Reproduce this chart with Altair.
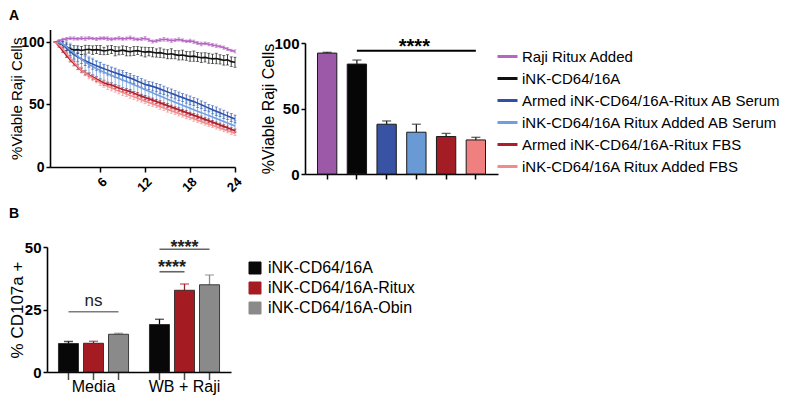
import altair as alt
import pandas as pd

FONT = "Liberation Sans"

# ---------------- data ----------------
hours = [0, 0.5, 1, 1.5, 2, 2.5, 3, 3.5, 4, 4.5, 5, 5.5, 6, 6.5, 7, 7.5, 8, 8.5, 9, 9.5,
         10, 10.5, 11, 11.5, 12, 12.5, 13, 13.5, 14, 14.5, 15, 15.5, 16, 16.5, 17, 17.5,
         18, 18.5, 19, 19.5, 20, 20.5, 21, 21.5, 22, 22.5, 23, 23.5, 24]

series_names = ["Raji Ritux Added", "iNK-CD64/16A", "Armed iNK-CD64/16A-Ritux AB Serum",
                "iNK-CD64/16A Ritux Added AB Serum", "Armed iNK-CD64/16A-Ritux FBS",
                "iNK-CD64/16A Ritux Added FBS"]

raji = [100.0, 101.0, 102.0, 102.5, 103.0, 102.8, 102.5, 103.0, 102.6, 103.2,
        102.8, 102.4, 102.9, 103.1, 102.7, 102.2, 102.6, 103.0, 102.5, 102.8,
        103.3, 102.6, 102.1, 102.4, 102.9, 101.7, 100.4, 100.9, 101.6, 102.2,
        101.8, 101.1, 101.5, 102.0, 101.3, 100.6, 100.9, 100.2, 99.1, 98.4,
        98.9, 98.2, 97.6, 97.0, 96.4, 95.5, 94.3, 93.2, 92.5]
raji_err = [0.5, 0.8, 1.0, 1.2, 1.1, 1.3, 1.0, 1.2, 1.4, 1.1,
            1.0, 1.3, 1.2, 1.1, 1.4, 1.2, 1.0, 1.3, 1.1, 1.2,
            1.5, 1.3, 1.1, 1.2, 1.4, 1.3, 1.2, 1.1, 1.3, 1.5,
            1.2, 1.4, 1.1, 1.3, 1.2, 1.0, 1.4, 1.3, 1.2, 1.5,
            1.1, 1.3, 1.2, 1.4, 1.1, 1.3, 1.2, 1.0, 1.2]

ink = [100.0, 99.2, 97.8, 96.2, 94.5, 93.6, 93.9, 93.2, 93.8, 94.2,
       93.5, 93.9, 93.6, 92.8, 93.4, 94.0, 92.6, 92.9, 93.5, 92.7,
       92.2, 92.8, 93.1, 92.4, 91.9, 92.3, 91.8, 91.2, 91.5, 90.8,
       90.2, 90.6, 89.9, 89.3, 89.6, 88.9, 88.4, 88.7, 88.0, 87.4,
       87.7, 87.0, 86.5, 86.8, 86.1, 85.4, 85.7, 84.3, 83.8]
ink_err = [0.5, 1.5, 2.5, 3.0, 3.2, 3.5, 3.0, 3.3, 3.6, 3.1,
           3.4, 3.2, 3.6, 3.0, 3.5, 3.3, 3.7, 3.2, 3.4, 3.8,
           3.3, 3.6, 3.2, 3.5, 3.9, 3.4, 3.7, 3.3, 3.8, 3.5,
           3.6, 4.0, 3.4, 3.7, 3.9, 3.5, 3.8, 4.1, 3.6, 3.9,
           3.7, 4.0, 3.8, 4.2, 3.7, 3.9, 4.1, 3.8, 4.0]

armed_ab = [100.0, 99.3, 97.6, 95.0, 92.4, 90.0, 88.0, 86.4, 85.0, 83.6,
            82.3, 81.0, 79.8, 78.7, 77.5, 76.4, 75.4, 74.3, 73.3, 72.2,
            71.2, 70.0, 68.6, 67.3, 66.0, 65.3, 64.4, 63.5, 62.4, 61.3,
            60.1, 58.9, 57.8, 56.6, 55.6, 54.4, 53.3, 52.3, 51.1, 49.8,
            48.5, 47.1, 45.8, 44.6, 43.4, 42.1, 40.9, 39.6, 38.4]
armed_ab_err = [0.5, 1.5, 2.5, 3.0, 3.4, 3.6, 3.8, 3.5, 3.9, 3.7,
                4.0, 3.6, 3.8, 3.5, 3.9, 3.6, 3.7, 3.4, 3.8, 3.5,
                3.6, 3.3, 3.7, 3.4, 3.6, 3.2, 3.5, 3.3, 3.6, 3.4,
                3.2, 3.5, 3.3, 3.4, 3.1, 3.3, 3.5, 3.2, 3.4, 3.1,
                3.3, 3.0, 3.2, 3.4, 3.1, 3.3, 3.0, 3.2, 3.1]

ritux_ab = [100.0, 99.6, 98.4, 96.2, 93.6, 91.0, 88.6, 86.2, 84.0, 82.1,
            80.4, 78.8, 77.3, 75.9, 74.6, 73.4, 72.1, 70.8, 69.6, 68.3,
            67.1, 65.8, 64.5, 63.2, 61.8, 60.6, 59.3, 58.0, 56.8, 55.5,
            54.2, 53.0, 51.8, 50.6, 49.4, 48.2, 47.0, 45.8, 44.6, 43.5,
            42.3, 41.1, 40.0, 38.8, 37.6, 36.4, 35.2, 34.0, 32.8]
ritux_ab_err = [0.5, 2.0, 3.5, 4.5, 5.5, 6.0, 6.5, 6.8, 7.0, 6.6,
                6.8, 6.4, 6.6, 6.2, 6.5, 6.0, 6.3, 5.9, 6.1, 5.8,
                6.0, 5.6, 5.9, 5.5, 5.7, 5.4, 5.6, 5.2, 5.5, 5.1,
                5.3, 5.0, 5.2, 4.9, 5.1, 4.8, 5.0, 4.7, 4.9, 4.6,
                4.8, 4.5, 4.7, 4.4, 4.6, 4.3, 4.5, 4.2, 4.4]

armed_fbs = [100.0, 96.8, 93.0, 89.2, 85.8, 82.6, 79.8, 77.4, 75.4, 73.6,
             72.0, 70.4, 68.9, 67.2, 66.3, 65.6, 64.4, 63.1, 62.0, 61.2,
             60.3, 59.1, 57.8, 56.7, 55.6, 54.6, 53.5, 52.4, 51.3, 50.2,
             49.1, 48.0, 46.9, 45.8, 44.7, 43.6, 42.5, 41.4, 40.3, 39.2,
             38.1, 37.0, 35.9, 34.8, 33.6, 32.5, 31.4, 30.2, 29.0]
armed_fbs_err = [0.5, 1.0, 1.4, 1.6, 1.8, 1.7, 1.9, 1.6, 1.8, 1.5,
                 1.7, 1.9, 1.6, 1.8, 1.5, 1.7, 1.6, 1.8, 1.5, 1.7,
                 1.6, 1.4, 1.7, 1.5, 1.6, 1.4, 1.6, 1.5, 1.7, 1.4,
                 1.6, 1.5, 1.3, 1.6, 1.4, 1.5, 1.3, 1.5, 1.4, 1.6,
                 1.3, 1.5, 1.4, 1.2, 1.5, 1.3, 1.4, 1.2, 1.4]

ritux_fbs = [100.0, 97.6, 94.6, 90.8, 87.0, 83.6, 80.4, 77.6, 75.2, 73.1,
             71.2, 69.4, 67.7, 66.0, 64.5, 63.2, 61.9, 60.7, 59.5, 58.4,
             57.3, 56.1, 55.0, 53.8, 52.7, 51.6, 50.5, 49.4, 48.3, 47.2,
             46.1, 45.0, 43.9, 42.8, 41.8, 40.7, 39.6, 38.6, 37.5, 36.4,
             35.3, 34.3, 33.2, 32.2, 31.1, 30.0, 29.0, 28.0, 26.9]
ritux_fbs_err = [0.5, 1.2, 1.8, 2.2, 2.5, 2.3, 2.6, 2.4, 2.2, 2.5,
                 2.3, 2.1, 2.4, 2.2, 2.5, 2.3, 2.0, 2.2, 2.4, 2.1,
                 2.3, 2.0, 2.2, 1.9, 2.1, 2.3, 2.0, 1.8, 2.1, 1.9,
                 2.2, 2.0, 1.8, 2.0, 1.9, 2.1, 1.8, 2.0, 1.7, 1.9,
                 1.8, 2.0, 1.7, 1.9, 1.6, 1.8, 1.7, 1.9, 1.6]

# endpoint (24 h) bar chart
bar_a_values = [92.3, 83.9, 38.0, 31.9, 28.6, 26.0]
bar_a_err = [0.6, 3.1, 2.5, 6.1, 2.4, 2.0]
sig_a_level = 94
sig_a_text_level = 92.4

# panel B
b_groups = ["Media", "WB + Raji"]
b_treat = ["iNK-CD64/16A", "iNK-CD64/16A-Ritux", "iNK-CD64/16A-Obin"]
b_media = [11.4, 11.5, 15.1]
b_media_err = [0.8, 0.8, 0.4]
b_wb = [19.0, 32.7, 34.9]
b_wb_err = [2.1, 2.5, 3.9]
sig_b_levels = [24.1, 40.1, 49.1]
sig_b_text_levels = [26.4, 39.5, 47.8]
sig_b_labels = ["ns", "****", "****"]

line_colors = ["#b466c2", "#111111", "#2f4fa8", "#6f9fe0", "#ae1d2a", "#f28b8b"]
bar_colors = ["#9b59a8", "#060606", "#3852a4", "#6a9ad6", "#a51d24", "#f07f7f"]
b_colors = ["#080808", "#a41c22", "#8a8a8a"]

# ---------------- tables ----------------
all_vals = [raji, ink, armed_ab, ritux_ab, armed_fbs, ritux_fbs]
all_errs = [raji_err, ink_err, armed_ab_err, ritux_ab_err, armed_fbs_err, ritux_fbs_err]
rows = []
for name, vals, errs in zip(series_names, all_vals, all_errs):
    for t, v, e in zip(hours, vals, errs):
        rows.append({"time": t, "series": name, "value": v, "lo": v - e, "hi": v + e})
df_line = pd.DataFrame(rows)

df_bar_a = pd.DataFrame({"cond": series_names, "value": bar_a_values,
                         "hi": [v + e for v, e in zip(bar_a_values, bar_a_err)]})
df_sig_a = pd.DataFrame({"start": [series_names[1]], "end": [series_names[5]],
                         "mid": [series_names[3]], "y": [sig_a_level],
                         "ty": [sig_a_text_level], "label": ["****"]})

b_rows = []
for g, vals, errs in [(b_groups[0], b_media, b_media_err), (b_groups[1], b_wb, b_wb_err)]:
    for tr, v, e in zip(b_treat, vals, errs):
        b_rows.append({"group": g, "treat": tr, "value": v, "hi": v + e, "base": 0})
df_b = pd.DataFrame(b_rows)
df_sig_b = pd.DataFrame({"group": [b_groups[0], b_groups[1], b_groups[1]],
                         "y": sig_b_levels, "ty": sig_b_text_levels, "label": sig_b_labels})


def axis(**kw):
    base = dict(domainColor="black", domainWidth=1.6, tickColor="black", tickWidth=1.5,
                tickSize=4, labelColor="black", labelFont=FONT, titleFont=FONT,
                titleColor="black", titleFontWeight="normal", grid=False)
    base.update(kw)
    return alt.Axis(**base)


# ---------------- Panel A: time course ----------------
xA = alt.X("time:Q", scale=alt.Scale(domain=[-0.7, 24], range=[42, 227], nice=False, zero=False),
           axis=axis(orient="bottom", offset=-231, values=[6, 12, 18, 24], labelAngle=-45,
                     labelFontSize=13, labelFontWeight="bold", title=None, tickSize=5,
                     labelPadding=3))


def yA(field):
    return alt.Y(field, scale=alt.Scale(domain=[0, 110], range=[159, 21.5], nice=False, zero=False),
                 axis=axis(orient="left", offset=-42, values=[0, 50, 100],
                           title="%Viable Raji Cells", titleFontSize=15, labelFontSize=14,
                           labelFontWeight="bold", labelPadding=2, titlePadding=-4))


colorA = alt.Color("series:N", scale=alt.Scale(domain=series_names, range=line_colors),
                   legend=alt.Legend(orient="none", legendX=488, legendY=37, title=None,
                                     symbolType="stroke", symbolSize=400, symbolStrokeWidth=3,
                                     symbolOpacity=1,
                                     labelFontSize=15, labelFont=FONT, labelColor="black",
                                     rowPadding=2, labelOffset=3, labelLimit=400))

baseA = alt.Chart(df_line)
line_layer = alt.layer(
    baseA.mark_rule(strokeWidth=0.8).encode(x=xA, y=yA("lo:Q"), y2="hi:Q", color=colorA),
    baseA.mark_tick(orient="horizontal", size=3, thickness=0.8).encode(x=xA, y=yA("hi:Q"), color=colorA),
    baseA.mark_tick(orient="horizontal", size=3, thickness=0.8).encode(x=xA, y=yA("lo:Q"), color=colorA),
    baseA.mark_line(strokeWidth=1.6).encode(x=xA, y=yA("value:Q"), color=colorA),
)

# ---------------- Panel A: 24 h bars ----------------
xBarA_scale = alt.Scale(domain=series_names, range=[297, 490], paddingInner=0.35, paddingOuter=0.42)
xBarA_axis = axis(orient="bottom", offset=-224, labels=False, title=None, tickSize=5)


def xBarA(field):
    return alt.X(field, sort=series_names, scale=xBarA_scale, axis=xBarA_axis)


def yBarA(field):
    return alt.Y(field, scale=alt.Scale(domain=[0, 100], range=[166, 35], nice=False, zero=False),
                 axis=axis(orient="left", offset=-297, values=[0, 50, 100],
                           title="%Viable Raji Cells", titleFontSize=16, labelFontSize=15,
                           labelFontWeight="bold", labelPadding=2, titlePadding=-3))


colorBarA = alt.Color("cond:N", scale=alt.Scale(domain=series_names, range=bar_colors), legend=None)
baseBarA = alt.Chart(df_bar_a)
baseSigA = alt.Chart(df_sig_a)
bar_a_layer = alt.layer(
    baseBarA.mark_rule(strokeWidth=1.3, color="#222").encode(x=xBarA("cond:N"), y=yBarA("value:Q"), y2="hi:Q"),
    baseBarA.mark_tick(orient="horizontal", size=9, thickness=1.3, color="#222").encode(x=xBarA("cond:N"), y=yBarA("hi:Q")),
    baseBarA.mark_bar(stroke="#1a1a1a", strokeWidth=1).encode(x=xBarA("cond:N"), y=yBarA("value:Q"), color=colorBarA),
    baseSigA.mark_rule(strokeWidth=2, color="black").encode(x=xBarA("start:N"), x2="end:N", y=yBarA("y:Q")),
    baseSigA.mark_text(fontSize=20, fontWeight="bold", font=FONT, baseline="alphabetic", dx=-2,
                       color="black").encode(x=xBarA("mid:N"), y=yBarA("ty:Q"), text="label:N"),
)

# ---------------- Panel B ----------------
xB_scale = alt.Scale(domain=b_groups, range=[39, 223], paddingInner=0.23, paddingOuter=0.126)
xB_axis = axis(orient="bottom", offset=-26, ticks=False, tickSize=0, labelFontSize=16,
               labelFontWeight="normal", labelPadding=6, title=None, labelAngle=0)


def xB(field):
    return alt.X(field, sort=b_groups, scale=xB_scale, axis=xB_axis)


xoffB = alt.XOffset("treat:N", sort=b_treat,
                    scale=alt.Scale(domain=b_treat, paddingInner=0.2, paddingOuter=0))


def yB(field):
    return alt.Y(field, scale=alt.Scale(domain=[0, 50], range=[364, 239], nice=False, zero=False),
                 axis=axis(orient="left", offset=-39, values=[0, 25, 50], title="% CD107a +",
                           titleFontSize=17, labelFontSize=15, labelFontWeight="bold",
                           labelPadding=2, titlePadding=-2))


colorB = alt.Color("treat:N", scale=alt.Scale(domain=b_treat, range=b_colors),
                   legend=alt.Legend(orient="none", legendX=239, legendY=252, title=None,
                                     symbolType="square", symbolSize=144, symbolOpacity=1,
                                     symbolStrokeColor="#222", symbolStrokeWidth=1,
                                     labelFontSize=16, labelFont=FONT, labelColor="black",
                                     rowPadding=4, labelOffset=5, labelLimit=300))

baseB = alt.Chart(df_b)
baseSigB = alt.Chart(df_sig_b)
b_layer = alt.layer(
    baseB.mark_rule(strokeWidth=1.3).encode(x=xB("group:N"), xOffset=xoffB, y=yB("value:Q"), y2="hi:Q", color=colorB),
    baseB.mark_tick(orient="horizontal", size=9, thickness=1.3).encode(x=xB("group:N"), xOffset=xoffB, y=yB("hi:Q"), color=colorB),
    baseB.mark_bar(stroke="#1a1a1a", strokeWidth=0.8).encode(x=xB("group:N"), xOffset=xoffB, y=yB("value:Q"), color=colorB),
    baseB.mark_tick(orient="vertical", size=8, thickness=1.5, yOffset=4, color="black").encode(
        x=xB("group:N"), xOffset=xoffB, y=yB("base:Q")),
    baseSigB.transform_filter(alt.datum.label == "ns").mark_tick(
        orient="horizontal", size=50, thickness=1.6, color="#444").encode(x=xB("group:N"), y=yB("y:Q")),
    baseSigB.transform_filter(alt.datum.y > 45).mark_tick(
        orient="horizontal", size=50, thickness=1.6, color="#222").encode(x=xB("group:N"), y=yB("y:Q")),
    baseSigB.transform_filter((alt.datum.y > 30) & (alt.datum.y < 45)).mark_tick(
        orient="horizontal", size=25, thickness=1.6, xOffset=-12.5, color="#222").encode(x=xB("group:N"), y=yB("y:Q")),
    baseSigB.transform_filter(alt.datum.label == "ns").mark_text(
        fontSize=17, font=FONT, baseline="alphabetic", color="#222").encode(x=xB("group:N"), y=yB("ty:Q"), text="label:N"),
    baseSigB.transform_filter(alt.datum.y > 45).mark_text(
        fontSize=18, fontWeight="bold", font=FONT, baseline="alphabetic", color="#222").encode(
        x=xB("group:N"), y=yB("ty:Q"), text="label:N"),
    baseSigB.transform_filter((alt.datum.y > 30) & (alt.datum.y < 45)).mark_text(
        fontSize=18, fontWeight="bold", font=FONT, baseline="alphabetic", xOffset=-12.5, color="#222").encode(
        x=xB("group:N"), y=yB("ty:Q"), text="label:N"),
)

# ---------------- panel letters ----------------
letters = ["A", "B"]
letter_a = alt.Chart(pd.DataFrame({"t": [letters[0]]})).mark_text(
    fontSize=14, fontWeight="bold", font=FONT, align="left", baseline="alphabetic", color="black"
).encode(x=alt.value(1), y=alt.value(12), text="t:N")
letter_b = alt.Chart(pd.DataFrame({"t": [letters[1]]})).mark_text(
    fontSize=14, fontWeight="bold", font=FONT, align="left", baseline="alphabetic", color="black"
).encode(x=alt.value(1), y=alt.value(210), text="t:N")

chart = alt.layer(line_layer, bar_a_layer, b_layer, letter_a, letter_b).resolve_scale(
    x="independent", y="independent", color="independent", xOffset="independent"
).resolve_axis(x="independent", y="independent").resolve_legend(color="independent").properties(
    width=781, height=390, autosize=alt.AutoSizeParams(type="none"), padding=0
).configure_view(stroke=None)

chart.save("out.html", embed_options={"renderer": "svg", "actions": False})
